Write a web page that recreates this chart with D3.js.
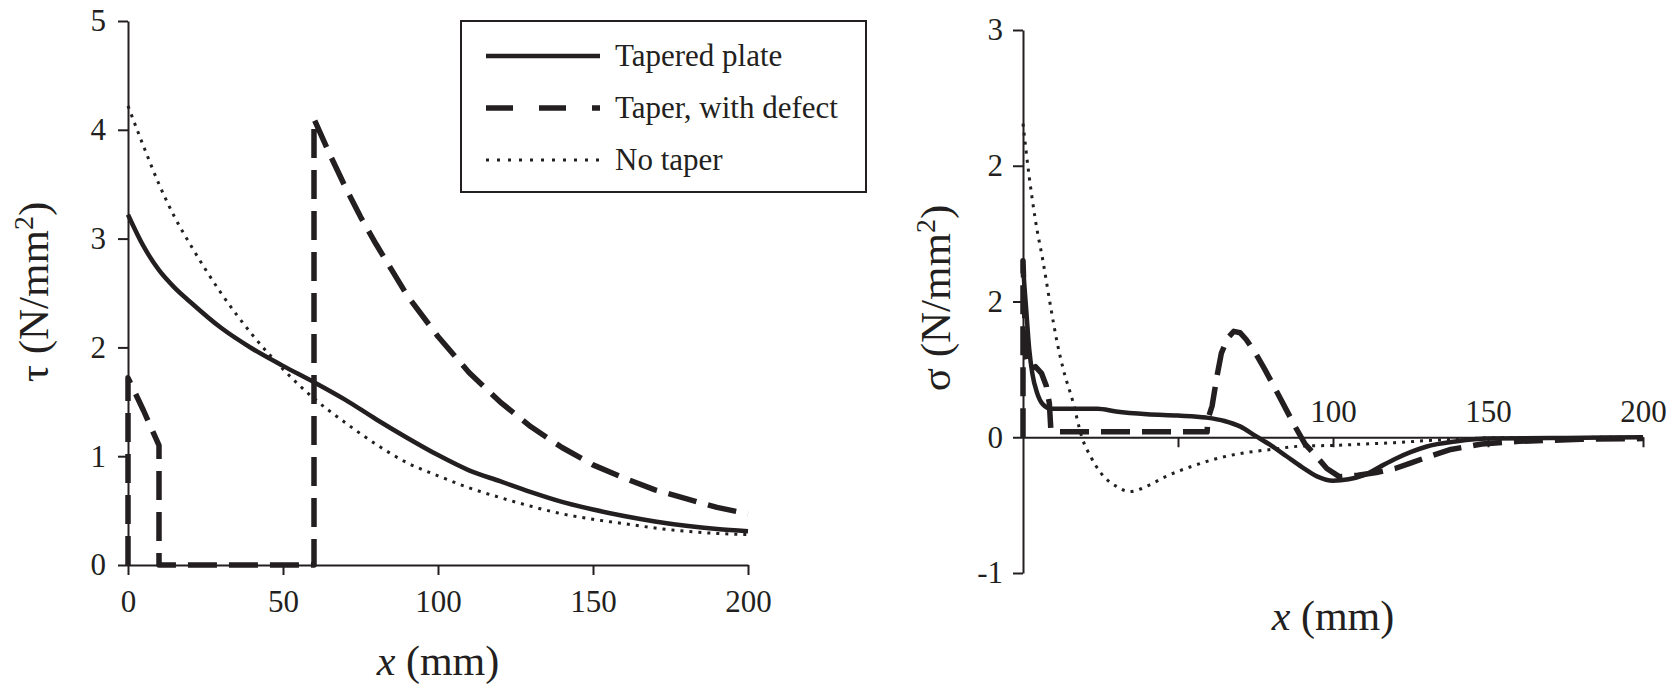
<!DOCTYPE html>
<html>
<head>
<meta charset="utf-8">
<script src="https://cdn.jsdelivr.net/npm/d3@7"></script>
<style>
  body { margin: 0; background: #fff; }
  text { font-family: "Liberation Serif", "Times New Roman", serif; fill: #231f20; }
</style>
</head>
<body>
<svg id="chart" width="1675" height="688"></svg>
<script>
// ---- left panel: shear stress tau along x ----
var tauX        = [0, 5, 10, 15, 20, 30, 40, 50, 60, 70, 80, 90, 100, 110, 120, 130, 140, 150, 160, 170, 180, 190, 200];
var tauTapered  = [3.22, 2.93, 2.71, 2.55, 2.42, 2.18, 1.99, 1.83, 1.68, 1.52, 1.34, 1.17, 1.01, 0.87, 0.77, 0.67, 0.58, 0.51, 0.45, 0.40, 0.36, 0.33, 0.31];
var tauNoTaper  = [4.22, 3.85, 3.5, 3.2, 2.95, 2.5, 2.12, 1.8, 1.53, 1.31, 1.11, 0.94, 0.82, 0.71, 0.62, 0.54, 0.47, 0.42, 0.38, 0.34, 0.31, 0.29, 0.28];
var tauDefX     = [0, 0, 2, 5, 10, 10, 60, 60, 65, 70, 75, 80, 90, 100, 110, 120, 130, 140, 150, 160, 170, 180, 190, 200];
var tauDefect   = [0, 1.72, 1.6, 1.42, 1.1, 0, 0, 4.1, 3.78, 3.48, 3.2, 2.95, 2.48, 2.1, 1.77, 1.5, 1.27, 1.08, 0.92, 0.8, 0.69, 0.61, 0.53, 0.47];
var tauYTicks   = [0, 1, 2, 3, 4, 5];
var tauXTicks   = [0, 50, 100, 150, 200];

// ---- right panel: normal stress sigma along x ----
var sigTapX     = [0, 0.5, 1, 2, 3, 4.5, 6.5, 9, 15, 24, 30, 40, 50, 59, 65, 70, 75, 80, 85, 90, 95, 100, 105, 110, 115, 120, 125, 130, 140, 150, 175, 200];
var sigTapered  = [1.27, 1.1, 0.95, 0.65, 0.47, 0.33, 0.24, 0.21, 0.21, 0.21, 0.19, 0.17, 0.16, 0.145, 0.12, 0.08, 0.01, -0.06, -0.14, -0.22, -0.29, -0.32, -0.31, -0.28, -0.22, -0.16, -0.11, -0.07, -0.03, -0.01, -0.005, 0];
var sigNoX      = [0, 2, 4, 6.5, 9, 11, 13, 16, 19, 22, 25, 30, 34.5, 40, 46, 55, 62, 70, 80, 90, 100, 110, 120, 130, 140, 150, 200];
var sigNoTaper  = [2.31, 1.92, 1.6, 1.29, 0.95, 0.7, 0.5, 0.27, 0, -0.15, -0.26, -0.36, -0.40, -0.36, -0.29, -0.21, -0.16, -0.12, -0.09, -0.065, -0.06, -0.05, -0.04, -0.025, -0.015, -0.005, 0];
var sigDefX     = [0, 0, 1, 2, 4, 6, 7.5, 8.5, 9, 10, 59.4, 59.6, 61, 62.5, 64, 66, 68, 70, 72, 75, 78, 82, 85, 88, 91, 95, 98, 102, 108, 114, 120, 125, 130, 138, 148, 160, 180, 200];
var sigDefect   = [0, 1.3, 0.6, 0.5, 0.52, 0.47, 0.38, 0.25, 0.05, 0.04, 0.04, 0.13, 0.23, 0.44, 0.62, 0.73, 0.78, 0.77, 0.72, 0.62, 0.5, 0.33, 0.2, 0.07, -0.05, -0.15, -0.23, -0.29, -0.28, -0.26, -0.23, -0.19, -0.15, -0.09, -0.05, -0.03, -0.015, -0.01];
var sigYTicks   = [3, 2, 1, 0, -1];
var sigYLabels  = ["3", "2", "2", "0", "-1"];   // as printed in the source figure
var sigXTicks   = [50, 100, 150, 200];
var sigXLabels  = ["", "100", "150", "200"];

var legendNames = ["Tapered plate", "Taper, with defect", "No taper"];

var ink = "#231f20";
var styles = {
  tapered: { width: 4.5, dash: null,      curve: d3.curveMonotoneX },
  defect:  { width: 5.5, dash: "29,12",   curve: d3.curveLinear },
  notaper: { width: 3,   dash: "3,6",     curve: d3.curveMonotoneX }
};

var svg = d3.select("#chart");

function zip(xs, ys) {
  return xs.map(function(x, i) { return { x: x, y: ys[i] }; });
}

function drawSeries(g, xs, ys, xScale, yScale, st) {
  var line = d3.line()
    .x(function(d) { return xScale(d.x); })
    .y(function(d) { return yScale(d.y); })
    .curve(st.curve);
  g.append("path")
    .datum(zip(xs, ys))
    .attr("d", line)
    .attr("fill", "none")
    .attr("stroke", ink)
    .attr("stroke-width", st.width)
    .attr("stroke-linejoin", "round")
    .attr("stroke-dasharray", st.dash);
}

function styleAxis(g) {
  g.selectAll("path, line").attr("stroke", ink).attr("stroke-width", 2);
  g.selectAll("text").style("font-family", "Liberation Serif").style("font-size", "31px").attr("fill", ink);
}

// ===== left panel =====
var xL = d3.scaleLinear().domain([0, 200]).range([128, 748]);
var yL = d3.scaleLinear().domain([0, 5]).range([565, 21]);

var gL = svg.append("g");

gL.append("g")
  .attr("transform", "translate(" + xL(0) + ",0)")
  .call(d3.axisLeft(yL).tickValues(tauYTicks).tickSize(10).tickSizeOuter(0).tickPadding(12).tickFormat(d3.format("d")))
  .call(styleAxis);

gL.append("g")
  .attr("transform", "translate(0," + yL(0) + ")")
  .call(d3.axisBottom(xL).tickValues(tauXTicks).tickSize(10).tickSizeOuter(0).tickPadding(15).tickFormat(d3.format("d")))
  .call(styleAxis);

drawSeries(gL, tauX, tauNoTaper, xL, yL, styles.notaper);
drawSeries(gL, tauX, tauTapered, xL, yL, styles.tapered);
drawSeries(gL, tauDefX, tauDefect, xL, yL, styles.defect);

// axis titles
var xtL = gL.append("text")
  .attr("x", (xL(0) + xL(200)) / 2)
  .attr("y", 675)
  .attr("text-anchor", "middle")
  .style("font-size", "42px");
xtL.append("tspan").style("font-style", "italic").text("x");
xtL.append("tspan").text(" (mm)");

var ytL = gL.append("text")
  .attr("transform", "translate(48," + 292 + ") rotate(-90)")
  .attr("text-anchor", "middle")
  .style("font-size", "43px");
ytL.append("tspan").text("τ (N/mm");
ytL.append("tspan").attr("dy", -15).style("font-size", "28px").text("2");
ytL.append("tspan").attr("dy", 15).text(")");

// legend
var leg = gL.append("g");
leg.append("rect")
  .attr("x", 461).attr("y", 21)
  .attr("width", 405).attr("height", 171)
  .attr("fill", "#fff")
  .attr("stroke", ink)
  .attr("stroke-width", 2);

var legStyles = [styles.tapered, { width: 5.5, dash: "27,26" }, { width: 3, dash: "3,8" }];
legendNames.forEach(function(name, i) {
  var ly = 56 + i * 52;
  leg.append("line")
    .attr("x1", 486).attr("x2", 600)
    .attr("y1", ly).attr("y2", ly)
    .attr("stroke", ink)
    .attr("stroke-width", legStyles[i].width)
    .attr("stroke-dasharray", legStyles[i].dash);
  leg.append("text")
    .attr("x", 615)
    .attr("y", ly + 10)
    .style("font-size", "31px")
    .text(name);
});

// ===== right panel =====
var xR = d3.scaleLinear().domain([0, 200]).range([1023, 1643]);
var yR = d3.scaleLinear().domain([-1, 3]).range([573, 30]);

var gR = svg.append("g");

gR.append("g")
  .attr("transform", "translate(" + xR(0) + ",0)")
  .call(d3.axisLeft(yR).tickValues(sigYTicks).tickSize(10).tickSizeOuter(0).tickPadding(10)
    .tickFormat(function(d, i) { return sigYLabels[i]; }))
  .call(styleAxis);

var xAxR = gR.append("g")
  .attr("transform", "translate(0," + yR(0) + ")")
  .call(d3.axisBottom(xR).tickValues(sigXTicks).tickSize(10).tickSizeOuter(0)
    .tickFormat(function(d, i) { return sigXLabels[i]; }))
  .call(styleAxis);
// labels sit above the zero line in the source
xAxR.selectAll("text").attr("y", -15).attr("dy", 0);

drawSeries(gR, sigNoX, sigNoTaper, xR, yR, styles.notaper);
drawSeries(gR, sigTapX, sigTapered, xR, yR, styles.tapered);
drawSeries(gR, sigDefX, sigDefect, xR, yR, styles.defect);

var xtR = gR.append("text")
  .attr("x", (xR(0) + xR(200)) / 2)
  .attr("y", 630)
  .attr("text-anchor", "middle")
  .style("font-size", "42px");
xtR.append("tspan").style("font-style", "italic").text("x");
xtR.append("tspan").text(" (mm)");

var ytR = gR.append("text")
  .attr("transform", "translate(950," + 298 + ") rotate(-90)")
  .attr("text-anchor", "middle")
  .style("font-size", "43px");
ytR.append("tspan").text("σ (N/mm");
ytR.append("tspan").attr("dy", -15).style("font-size", "28px").text("2");
ytR.append("tspan").attr("dy", 15).text(")");
</script>
</body>
</html>
